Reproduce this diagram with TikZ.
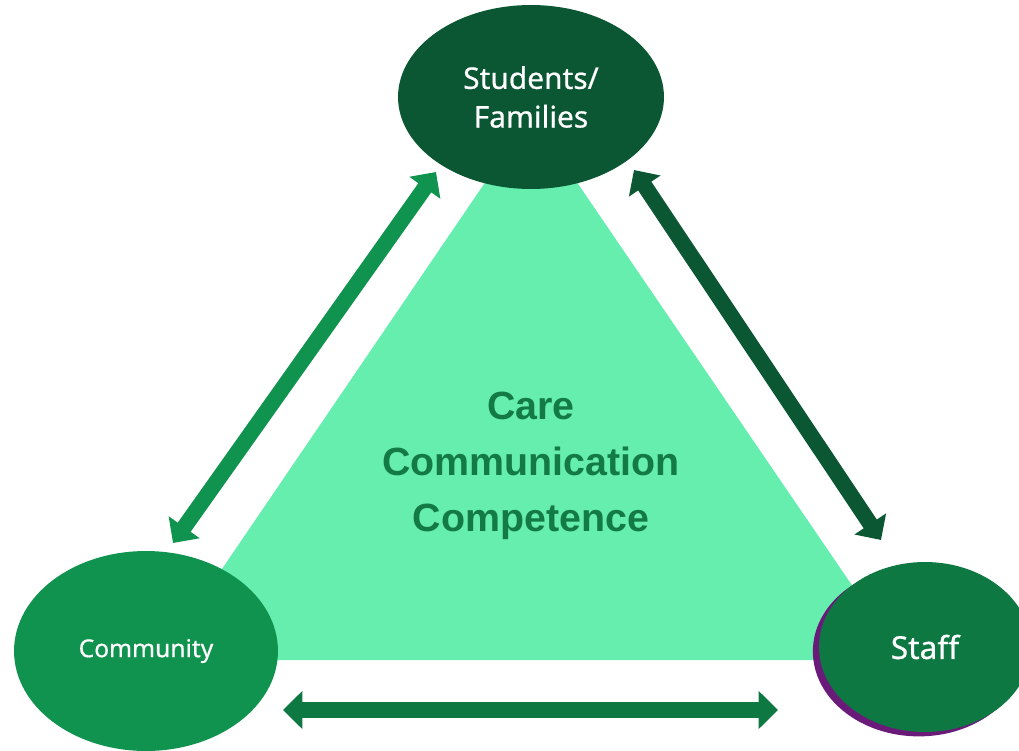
\documentclass[tikz,border=0pt]{standalone}
\usepackage{fontspec}
\setmainfont{Noto Sans}[FakeBold=0.6]
\newfontfamily\carefont{Liberation Sans}
\usetikzlibrary{shapes.geometric,arrows.meta}

\definecolor{trigreen}{HTML}{66EEAF}
\definecolor{famgreen}{HTML}{0B5733}
\definecolor{comgreen}{HTML}{10934F}
\definecolor{stfgreen}{HTML}{0E7843}
\definecolor{caretext}{HTML}{137A46}
\definecolor{shadowpurple}{HTML}{6A1B7A}

\tikzset{
  party/.style={ellipse, inner sep=0pt, text=white, align=center},
  linkarrow/.style={line width=9pt,
    {Triangle[length=11pt,width=21pt]}-{Triangle[length=11pt,width=21pt]}},
}

\begin{document}
\begin{tikzpicture}[x=0.02cm, y=-0.02cm]

  \useasboundingbox (0,0) rectangle (1019,751);

  % Triangle behind everything
  \fill[trigreen] (531,115) -- (160,660) -- (903,660) -- cycle;

  % Centre text
  \node[font=\carefont\bfseries\fontsize{22.4}{31.8}\selectfont, text=caretext, align=center] (care) at (531,466) {Care\\Communication\\Competence};

  % Arrow ends
  \coordinate (famL) at (436,172);
  \coordinate (comT) at (173,543);
  \coordinate (famR) at (634,170);
  \coordinate (stfT) at (881,540);
  \coordinate (comR) at (283,710);
  \coordinate (stfL) at (778,710);

  % Arrows between the three groups
  \draw[linkarrow, comgreen] (famL) -- (comT);
  \draw[linkarrow, famgreen] (famR) -- (stfT);
  \draw[linkarrow, stfgreen] (comR) -- (stfL);

  % The three groups
  \node[party, fill=famgreen, minimum width=5.32cm, minimum height=3.68cm, font=\fontsize{17}{22}\selectfont] (fam) at (531,97) {Students/\\Families};
  \node[party, fill=comgreen, minimum width=5.28cm, minimum height=4.0cm, font=\fontsize{14}{17}\selectfont] (com) at (146,651) {Community};
  \node[party, fill=stfgreen, minimum width=4.24cm, minimum height=3.4cm, font=\fontsize{18}{22}\selectfont,
    preaction={fill=shadowpurple, transform canvas={xshift=-3.5pt, yshift=-2.5pt}}] (stf) at (925,647) {Staff};

\end{tikzpicture}
\end{document}
